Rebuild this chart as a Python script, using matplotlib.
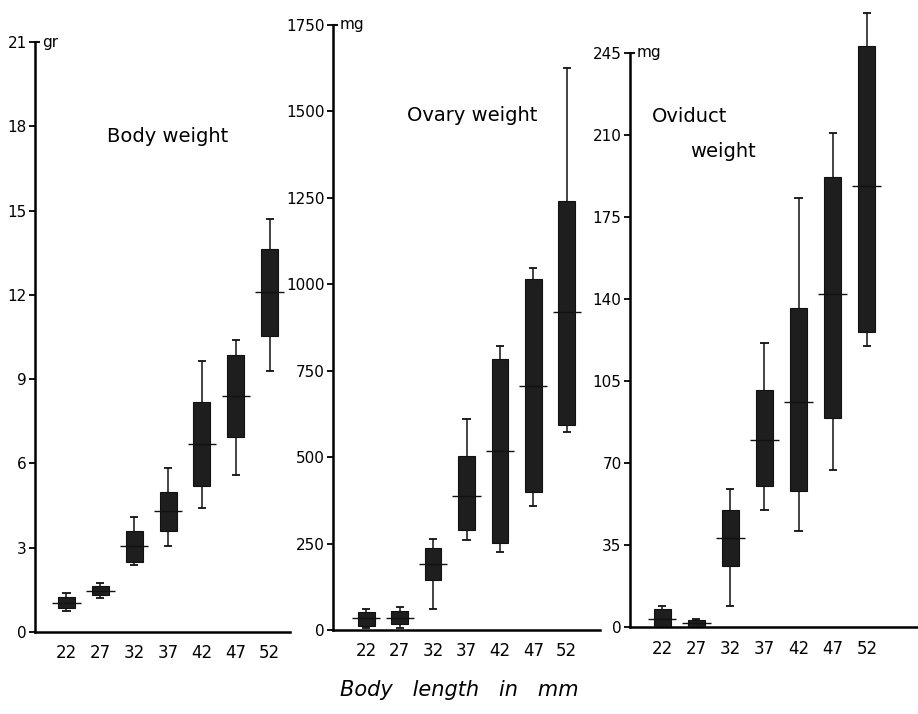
import numpy as np
import matplotlib
matplotlib.use("Agg")
import matplotlib.pyplot as plt

lengths = ["22", "27", "32", "37", "42", "47", "52"]

# body weight, gr
bw_min = [0.75, 1.2, 2.4, 3.05, 4.4, 5.6, 9.3]
bw_lo = [0.85, 1.3, 2.5, 3.6, 5.2, 6.95, 10.55]
bw_mean = [1.05, 1.45, 3.05, 4.3, 6.7, 8.4, 12.1]
bw_hi = [1.25, 1.65, 3.6, 5.0, 8.2, 9.85, 13.65]
bw_max = [1.4, 1.75, 4.1, 5.85, 9.65, 10.4, 14.7]

# ovary weight, mg
ov_min = [6, 6, 60, 260, 225, 360, 572]
ov_lo = [12, 16, 144, 290, 252, 400, 594]
ov_mean = [34, 35, 190, 387, 519, 706, 919]
ov_hi = [52, 54, 237, 502, 784, 1015, 1241]
ov_max = [62, 66, 262, 609, 821, 1046, 1625]

# oviduct weight, mg
od_min = [0.0, 0.0, 9, 50, 41, 67, 120]
od_lo = [0.5, 0.5, 26, 60, 58, 89, 126]
od_mean = [3.6, 1.8, 38, 80, 96, 142, 188]
od_hi = [7.7, 3.0, 50, 101, 136, 192, 248]
od_max = [8.9, 3.6, 59, 121, 183, 211, 262]

W, H = 918, 714
fig = plt.figure(figsize=(W / 100, H / 100), dpi=100)
ink = "#111111"


def fpos(l, r, b, t):
    return [l / W, 1 - b / H, (r - l) / W, (b - t) / H]


panels = [
    dict(pos=fpos(35, 290, 632, 42), ylim=(0, 21), top=21, ticks=[0, 3, 6, 9, 12, 15, 18, 21],
         xlim=(-0.93, 6.6), data=(bw_min, bw_lo, bw_mean, bw_hi, bw_max),
         unit="gr", titles=[("Body weight", 0.52, 0.84, "center")]),
    dict(pos=fpos(333, 600, 630, 25), ylim=(0, 1750), top=1750,
         ticks=[0, 250, 500, 750, 1000, 1250, 1500, 1750],
         xlim=(-1.0, 7.0), data=(ov_min, ov_lo, ov_mean, ov_hi, ov_max),
         unit="mg", titles=[("Ovary weight", 0.52, 0.85, "center")]),
    dict(pos=fpos(630, 918, 627, 6), ylim=(0, 265), top=245,
         ticks=[0, 35, 70, 105, 140, 175, 210, 245],
         xlim=(-0.94, 7.5), data=(od_min, od_lo, od_mean, od_hi, od_max),
         unit="mg", titles=[("Oviduct", 0.076, 0.822, "left"), ("weight", 0.21, 0.765, "left")]),
]

for p in panels:
    ax = fig.add_axes(p["pos"])
    mn, lo, mean, hi, mx = [np.array(a, dtype=float) for a in p["data"]]
    x = np.arange(len(lengths))
    ax.vlines(x, mn, mx, color=ink, lw=1.1, zorder=2)
    ax.hlines(mn, x - 0.12, x + 0.12, color=ink, lw=1.3, zorder=2)
    ax.hlines(mx, x - 0.12, x + 0.12, color=ink, lw=1.3, zorder=2)
    ax.bar(x, hi - lo, bottom=lo, width=0.5, color="#1e1e1e", edgecolor=ink, lw=0.8, zorder=3)
    ax.hlines(mean, x - 0.42, x + 0.42, color=ink, lw=1.0, zorder=4)

    ax.set_xlim(*p["xlim"])
    ax.set_ylim(*p["ylim"])
    ax.set_xticks(x)
    ax.set_xticklabels(lengths)
    ax.set_yticks(p["ticks"])
    ax.set_yticklabels([str(t) for t in p["ticks"]])
    ax.tick_params(axis="x", length=0, pad=9, labelsize=12)
    ax.tick_params(axis="y", length=4, width=1.3, direction="out", pad=2, labelsize=11)
    for s in ["top", "right"]:
        ax.spines[s].set_visible(False)
    ax.spines["left"].set_bounds(0, p["top"])
    ax.spines["left"].set_linewidth(1.8)
    ax.spines["bottom"].set_linewidth(1.8)
    ax.set_facecolor("none")
    # little hook at the top of the axis and unit
    ax.plot([p["xlim"][0], p["xlim"][0] + 0.12], [p["top"], p["top"]], color=ink, lw=1.5,
            clip_on=False)
    ax.text(p["xlim"][0] + 0.2, p["top"], p["unit"], fontsize=11, va="center", ha="left")
    for txt, tx, ty, ha in p["titles"]:
        ax.text(tx, ty, txt, transform=ax.transAxes, fontsize=14, ha=ha, va="center")

fig.text(0.5, 1 - 690 / H, "Body   length   in   mm", fontsize=15, style="italic",
         ha="center", va="center")

fig.savefig("out.png", dpi=100)
